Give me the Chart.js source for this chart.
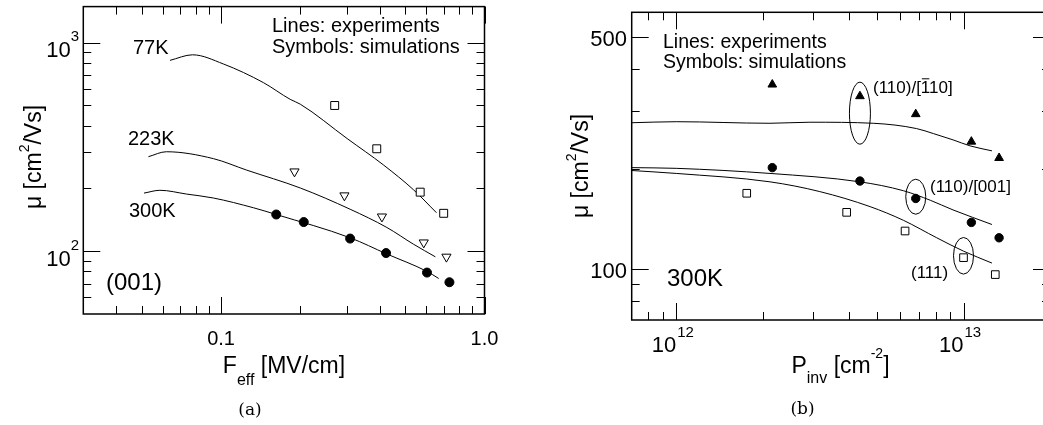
<!DOCTYPE html>
<html>
<head>
<meta charset="utf-8">
<script src="https://cdn.jsdelivr.net/npm/chart.js@4.4.0/dist/chart.umd.min.js"></script>
<style>
  html, body { margin: 0; padding: 0; background: #fff; overflow: hidden; }
  #wrap { position: relative; width: 1043px; height: 425px; overflow: hidden; }
  #chartA { position: absolute; left: 0; top: 0; }
  #chartB { position: absolute; left: 520px; top: 0; }
</style>
</head>
<body>
<div id="wrap">
  <canvas id="chartA" width="520" height="425"></canvas>
  <canvas id="chartB" width="540" height="425"></canvas>
</div>
<script>
const SANS = '"Liberation Sans", Arial, sans-serif';
const SERIF = '"DejaVu Serif", serif';

// ---------- (a) (001): mobility vs Feff [MV/cm]
const a77X = [0.064, 0.078, 0.102, 0.145, 0.183, 0.2, 0.301, 0.414, 0.538, 0.657];
const a77Y = [823, 875, 791, 643, 535, 507, 347, 259, 197, 153];
const a223X = [0.053, 0.062, 0.0935, 0.125, 0.2, 0.309, 0.426, 0.538, 0.651];
const a223Y = [284, 300, 278, 245, 201, 159, 130, 108, 94];
const a300X = [0.051, 0.0586, 0.074, 0.0935, 0.133, 0.162, 0.309, 0.426, 0.605, 0.67];
const a300Y = [190, 196, 188, 180, 161.5, 150, 116, 97, 80, 74];
// simulations
const aSqX = [0.27, 0.39, 0.57, 0.70];
const aSqY = [500, 310, 192, 152];
const aTriX = [0.19, 0.294, 0.408, 0.588, 0.717];
const aTriY = [241, 185, 146.5, 110, 94];
const aDotX = [0.162, 0.206, 0.309, 0.423, 0.605, 0.736];
const aDotY = [150, 138, 115, 98, 79, 71];
// ticks
const aXMajor = [0.1, 1.0];
const aXLabels = ['0.1', '1.0'];
const aXMinor = [0.04, 0.05, 0.06, 0.07, 0.08, 0.09, 0.2, 0.3, 0.4, 0.5, 0.6, 0.7, 0.8, 0.9];
const aYMajor = [100, 1000];
const aYExp = ['2', '3'];
const aYMinor = [60, 70, 80, 90, 200, 300, 400, 500, 600, 700, 800, 900];

// ---------- (b) 300K: mobility vs Pinv [cm^-2]
const bTopX = [7e11, 1e12, 2.12e12, 2.92e12, 4.85e12, 6.87e12, 7.85e12, 9.2e12, 1.054e13, 1.256e13];
const bTopY = [276, 278, 275, 277, 275, 265, 256, 245, 235, 227];
const bMidX = [7e11, 1e12, 2.12e12, 4.36e12, 6.18e12, 7.66e12, 9.2e12, 1.256e13];
const bMidY = [202, 201, 194, 183, 172, 161, 150.5, 136];
const bLowX = [7e11, 1e12, 2.12e12, 3.16e12, 4.73e12, 6.18e12, 8.07e12, 1e13, 1.256e13];
const bLowY = [198, 194, 183, 171, 154, 140, 124, 113, 104];
// simulations
const bTriX = [2.16e12, 4.36e12, 6.82e12, 1.065e13, 1.33e13];
const bTriY = [360, 332, 293, 242, 216];
const bDotX = [2.16e12, 4.36e12, 6.82e12, 1.065e13, 1.33e13];
const bDotY = [202, 184, 163, 138, 124];
const bSqX = [1.76e12, 3.92e12, 6.26e12, 1.0e13, 1.29e13];
const bSqY = [169, 148, 130, 108, 96];
// ellipses marking the labelled series (data coords)
const bEllX = [4.36e12, 6.82e12, 1.0e13];
const bEllY = [295, 165, 109.4];
// ticks
const bXMajor = [1e12, 1e13];
const bXExp = ['12', '13'];
const bXMinor = [8e11, 9e11, 2e12, 3e12, 4e12, 5e12, 6e12, 7e12, 8e12, 9e12];
const bYMajor = [100, 500];
const bYLabels = ['100', '500'];
const bYMinor = [80, 90, 200, 300, 400];

const pts = (xs, ys) => xs.map((x, i) => ({ x: x, y: ys[i] }));

function lineSet(xs, ys) {
  return {
    data: pts(xs, ys), showLine: true, borderColor: '#000', borderWidth: 1,
    pointRadius: 0, pointHoverRadius: 0, cubicInterpolationMode: 'monotone', fill: false
  };
}

function markSet(xs, ys, style, fill, r, rot) {
  return {
    data: pts(xs, ys), showLine: false, pointStyle: style, pointRadius: r,
    pointHoverRadius: r, pointRotation: rot || 0, pointBackgroundColor: fill,
    pointBorderColor: '#000', pointBorderWidth: 1
  };
}

function logScales(xMin, xMax, yMin, yMax, yW, xH) {
  const off = { display: false };
  return {
    x: { type: 'logarithmic', min: xMin, max: xMax, ticks: off, grid: off, border: off,
         afterFit: s => { s.height = xH; } },
    y: { type: 'logarithmic', min: yMin, max: yMax, ticks: off, grid: off, border: off,
         afterFit: s => { s.width = yW; } }
  };
}

function text(ctx, s, x, y, size, align, font) {
  ctx.font = size + 'px ' + (font || SANS);
  ctx.textAlign = align || 'left';
  ctx.textBaseline = 'alphabetic';
  ctx.fillText(s, x, y);
}

// parts: [text, size, dy]
function rich(ctx, parts, x, y, align) {
  let w = 0;
  parts.forEach(p => { ctx.font = p[1] + 'px ' + SANS; w += ctx.measureText(p[0]).width; });
  let cx = align === 'center' ? x - w / 2 : align === 'right' ? x - w : x;
  ctx.textAlign = 'left';
  ctx.textBaseline = 'alphabetic';
  parts.forEach(p => {
    ctx.font = p[1] + 'px ' + SANS;
    ctx.fillText(p[0], cx, y + (p[2] || 0));
    cx += ctx.measureText(p[0]).width;
  });
}

function yTitle(ctx, x, y) {
  ctx.save();
  ctx.translate(x, y);
  ctx.rotate(-Math.PI / 2);
  rich(ctx, [['\u03bc [cm', 23, 0], ['2', 14, -12], ['/Vs]', 23, 0]], 0, 0, 'center');
  ctx.restore();
}

// frame with inward ticks on all four sides
function frame(chart, xMaj, xMin, yMaj, yMin) {
  const { ctx, chartArea: a } = chart;
  const { x, y } = chart.scales;
  ctx.save();
  ctx.strokeStyle = '#000';
  ctx.lineWidth = 1;
  ctx.beginPath();
  const tx = (v, len) => {
    const p = Math.round(x.getPixelForValue(v)) + 0.5;
    ctx.moveTo(p, a.top); ctx.lineTo(p, a.top + len);
    ctx.moveTo(p, a.bottom); ctx.lineTo(p, a.bottom - len);
  };
  const ty = (v, len) => {
    const p = Math.round(y.getPixelForValue(v)) + 0.5;
    ctx.moveTo(a.left, p); ctx.lineTo(a.left + len, p);
    ctx.moveTo(a.right, p); ctx.lineTo(a.right - len, p);
  };
  xMaj.forEach(v => tx(v, 17));
  xMin.forEach(v => tx(v, 8));
  yMaj.forEach(v => ty(v, 17));
  yMin.forEach(v => ty(v, 8));
  ctx.stroke();
  ctx.lineWidth = 1.5;
  ctx.strokeRect(a.left, a.top, a.right - a.left, a.bottom - a.top);
  ctx.restore();
}

const decorA = {
  id: 'decorA',
  afterDraw(chart) {
    const { ctx } = chart;
    const { x, y } = chart.scales;
    frame(chart, aXMajor, aXMinor, aYMajor, aYMinor);
    ctx.save();
    ctx.fillStyle = '#000';
    aXMajor.forEach((v, i) => text(ctx, aXLabels[i], x.getPixelForValue(v), 345, 20, 'center'));
    aYMajor.forEach((v, i) => {
      const py = y.getPixelForValue(v);
      rich(ctx, [['10', 22, 0], [aYExp[i], 15, -16]], 79, py + 14.5, 'right');
    });
    rich(ctx, [['F', 23, 0], ['eff', 16, 11.5], [' [MV/cm]', 23, 0]], 284, 373, 'center');
    yTitle(ctx, 40.5, 157);
    text(ctx, 'Lines: experiments', 272, 31.7, 20);
    text(ctx, 'Symbols: simulations', 272, 53.3, 20);
    text(ctx, '77K', 133, 54, 20);
    text(ctx, '223K', 128, 145, 20);
    text(ctx, '300K', 129, 216.7, 20);
    text(ctx, '(001)', 106, 290, 24);
    ctx.font = '17px ' + SERIF;
    ctx.textAlign = 'center';
    ctx.textBaseline = 'middle';
    ctx.fillText('(a)', 250, 411);
    ctx.restore();
  }
};

const decorB = {
  id: 'decorB',
  afterDraw(chart) {
    const { ctx } = chart;
    const { x, y } = chart.scales;
    frame(chart, bXMajor, bXMinor, bYMajor, bYMinor);
    ctx.save();
    ctx.fillStyle = '#000';
    ctx.strokeStyle = '#000';
    bYMajor.forEach((v, i) => text(ctx, bYLabels[i], 107, y.getPixelForValue(v) + 9, 22, 'right'));
    bXMajor.forEach((v, i) => {
      const px = x.getPixelForValue(v);
      text(ctx, '10', px, 352, 22, 'right');
      text(ctx, bXExp[i], px + 1, 337, 15, 'left');
    });
    rich(ctx, [['P', 23, 0], ['inv', 16, 10], [' [cm', 23, 0], ['-2', 14, -15], [']', 23, 0]], 320.5, 373, 'center');
    yTitle(ctx, 67.5, 166);
    text(ctx, 'Lines: experiments', 143, 48.3, 19.5);
    text(ctx, 'Symbols: simulations', 143, 68.3, 19.5);
    text(ctx, '300K', 147, 286, 24);
    // (110)/[1-10] with overbar on the first 1 inside the brackets
    const lx = 353, ly = 93.3;
    text(ctx, '(110)/[110]', lx, ly, 17);
    ctx.font = '17px ' + SANS;
    const pre = ctx.measureText('(110)/[').width;
    const one = ctx.measureText('1').width;
    ctx.lineWidth = 1;
    ctx.beginPath();
    ctx.moveTo(lx + pre + 1, ly - 14.5);
    ctx.lineTo(lx + pre + one - 1, ly - 14.5);
    ctx.stroke();
    text(ctx, '(110)/[001]', 410, 191.7, 17);
    text(ctx, '(111)', 391, 278.3, 17);
    // ellipses
    const rx = [10.5, 10, 10], ry = [31, 17.5, 18.3];
    bEllX.forEach((v, i) => {
      ctx.beginPath();
      ctx.ellipse(x.getPixelForValue(v), y.getPixelForValue(bEllY[i]), rx[i], ry[i], 0, 0, Math.PI * 2);
      ctx.stroke();
    });
    ctx.font = '17px ' + SERIF;
    ctx.textAlign = 'center';
    ctx.textBaseline = 'middle';
    ctx.fillText('(b)', 282.5, 410);
    ctx.restore();
  }
};

const common = {
  responsive: false,
  animation: false,
  devicePixelRatio: 1,
  events: [],
  plugins: { legend: { display: false }, tooltip: { enabled: false } }
};

new Chart(document.getElementById('chartA').getContext('2d'), {
  type: 'scatter',
  data: {
    datasets: [
      markSet(aSqX, aSqY, 'rect', '#fff', 5.6),
      markSet(aTriX, aTriY, 'triangle', '#fff', 5.3, 180),
      markSet(aDotX, aDotY, 'circle', '#000', 4.5),
      lineSet(a77X, a77Y),
      lineSet(a223X, a223Y),
      lineSet(a300X, a300Y)
    ]
  },
  options: Object.assign({}, common, {
    layout: { padding: { left: 0, right: 35.5, top: 3, bottom: 0 } },
    scales: logScales(0.03, 1.0, 50, 1490, 83.3, 111)
  }),
  plugins: [decorA]
});

new Chart(document.getElementById('chartB').getContext('2d'), {
  type: 'scatter',
  data: {
    datasets: [
      markSet(bTriX, bTriY, 'triangle', '#000', 5),
      markSet(bDotX, bDotY, 'circle', '#000', 4.2),
      markSet(bSqX, bSqY, 'rect', '#fff', 5.4),
      lineSet(bTopX, bTopY),
      lineSet(bMidX, bMidY),
      lineSet(bLowX, bLowY)
    ]
  },
  options: Object.assign({}, common, {
    layout: { padding: { left: 0, right: 10, top: 12.3, bottom: 0 } },
    scales: logScales(7e11, 2e13, 70, 595, 111.7, 105)
  }),
  plugins: [decorB]
});
</script>
</body>
</html>
